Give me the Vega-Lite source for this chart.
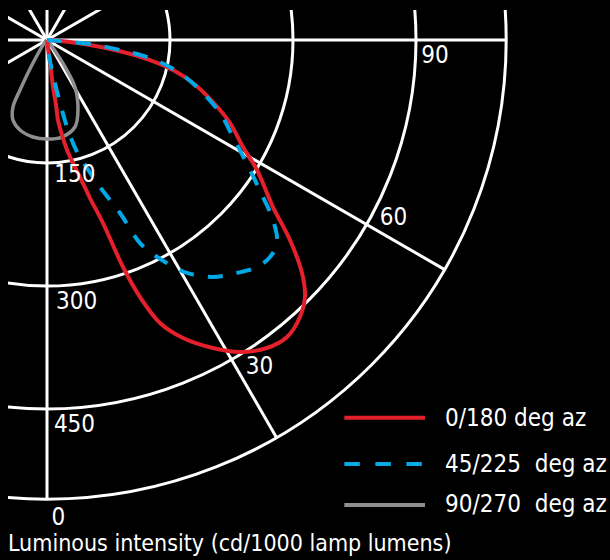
{
  "$schema": "https://vega.github.io/schema/vega-lite/v6.json",
  "description": "Polar candela plot, luminous intensity per 1000 lamp lumens",
  "background": "black",
  "autosize": "none",
  "padding": {"left": 8, "top": 10, "right": 0, "bottom": 58},
  "width": 602,
  "height": 492,
  "title": {
    "text": "Luminous intensity (cd/1000 lamp lumens)",
    "orient": "bottom",
    "anchor": "start",
    "frame": "group",
    "offset": 3,
    "color": "white",
    "font": "DejaVu Sans Condensed, Roboto, sans-serif",
    "fontSize": 23,
    "fontWeight": "normal"
  },
  "encoding": {
    "x": {"field": "x", "type": "quantitative", "scale": {"domain": [-47.56, 686.58], "nice": false, "zero": false}, "axis": null},
    "y": {"field": "y", "type": "quantitative", "scale": {"domain": [-563.41, 36.59], "nice": false, "zero": false}, "axis": null}
  },
  "layer": [
    {
      "data": {"values": [
        {"r": 150, "x": 0, "y": 0},
        {"r": 300, "x": 0, "y": 0},
        {"r": 450, "x": 0, "y": 0},
        {"r": 560, "x": 0, "y": 0}
      ]},
      "mark": {"type": "point", "shape": "circle", "filled": false, "stroke": "white", "strokeWidth": 3, "opacity": 1, "clip": true},
      "encoding": {
        "size": {"field": "r", "type": "quantitative", "scale": {"type": "pow", "exponent": 2, "domain": [0, 560], "range": [0, 843459]}, "legend": null}
      }
    },
    {
      "data": {"values": [
        {"deg": 0, "x": 0, "y": 0}, {"deg": 0, "x": 0, "y": -560},
        {"deg": 30, "x": 0, "y": 0}, {"deg": 30, "x": 280, "y": -485},
        {"deg": 60, "x": 0, "y": 0}, {"deg": 60, "x": 485, "y": -280},
        {"deg": 90, "x": 0, "y": 0}, {"deg": 90, "x": 560, "y": 0},
        {"deg": 120, "x": 0, "y": 0}, {"deg": 120, "x": 485, "y": 280},
        {"deg": 150, "x": 0, "y": 0}, {"deg": 150, "x": 280, "y": 485},
        {"deg": 180, "x": 0, "y": 0}, {"deg": 180, "x": 0, "y": 560},
        {"deg": 210, "x": 0, "y": 0}, {"deg": 210, "x": -280, "y": 485},
        {"deg": 240, "x": 0, "y": 0}, {"deg": 240, "x": -485, "y": 280},
        {"deg": 270, "x": 0, "y": 0}, {"deg": 270, "x": -560, "y": 0},
        {"deg": 300, "x": 0, "y": 0}, {"deg": 300, "x": -485, "y": -280}
      ]},
      "mark": {"type": "line", "color": "white", "strokeWidth": 3, "clip": true},
      "encoding": {
        "detail": {"field": "deg", "type": "nominal"}
      }
    },
    {
      "data": {"values": [
        {"i": 0, "x": 0, "y": 0},
        {"i": 1, "x": 7.3, "y": -9.8},
        {"i": 2, "x": 22.0, "y": -32.9},
        {"i": 3, "x": 34.1, "y": -57.3},
        {"i": 4, "x": 37.8, "y": -85.4},
        {"i": 5, "x": 34.1, "y": -106.1},
        {"i": 6, "x": 18.3, "y": -118.3},
        {"i": 7, "x": 0, "y": -120.7},
        {"i": 8, "x": -17.1, "y": -118.3},
        {"i": 9, "x": -32.9, "y": -109.8},
        {"i": 10, "x": -41.5, "y": -97.6},
        {"i": 11, "x": -41.5, "y": -81.7},
        {"i": 12, "x": -32.9, "y": -61.0},
        {"i": 13, "x": -17.1, "y": -28.0},
        {"i": 14, "x": -2.4, "y": -2.4},
        {"i": 15, "x": 0, "y": 0}
      ]},
      "mark": {"type": "line", "interpolate": "catmull-rom", "color": "#8e8e8e", "strokeWidth": 3.5},
      "encoding": {
        "order": {"field": "i", "type": "quantitative"}
      }
    },
    {
      "data": {"values": [
        {"i": 0, "x": 0, "y": 0},
        {"i": 1, "x": 28.0, "y": -2.4},
        {"i": 2, "x": 52.4, "y": -6.1},
        {"i": 3, "x": 92.7, "y": -14.6},
        {"i": 4, "x": 125.6, "y": -24.4},
        {"i": 5, "x": 153.7, "y": -36.6},
        {"i": 6, "x": 178.0, "y": -52.4},
        {"i": 7, "x": 202.4, "y": -75.6},
        {"i": 8, "x": 223.2, "y": -101.2},
        {"i": 9, "x": 239.0, "y": -130.5},
        {"i": 10, "x": 256.1, "y": -158.5},
        {"i": 11, "x": 275.6, "y": -203.7},
        {"i": 12, "x": 296.3, "y": -243.9},
        {"i": 13, "x": 311.0, "y": -284.1},
        {"i": 14, "x": 314.6, "y": -313.4},
        {"i": 15, "x": 308.5, "y": -337.8},
        {"i": 16, "x": 292.7, "y": -362.2},
        {"i": 17, "x": 268.3, "y": -375.6},
        {"i": 18, "x": 235.4, "y": -380.5},
        {"i": 19, "x": 202.4, "y": -375.6},
        {"i": 20, "x": 165.9, "y": -363.4},
        {"i": 21, "x": 137.8, "y": -345.1},
        {"i": 22, "x": 113.4, "y": -313.4},
        {"i": 23, "x": 92.7, "y": -276.8},
        {"i": 24, "x": 68.3, "y": -223.2},
        {"i": 25, "x": 52.4, "y": -192.7},
        {"i": 26, "x": 40.2, "y": -167.1},
        {"i": 27, "x": 31.7, "y": -150.0},
        {"i": 28, "x": 24.4, "y": -134.1},
        {"i": 29, "x": 18.3, "y": -115.9},
        {"i": 30, "x": 13.4, "y": -97.6},
        {"i": 31, "x": 11.0, "y": -79.3},
        {"i": 32, "x": 7.3, "y": -57.3},
        {"i": 33, "x": 4.9, "y": -36.6},
        {"i": 34, "x": 2.4, "y": -18.3},
        {"i": 35, "x": 0, "y": 0}
      ]},
      "mark": {"type": "line", "interpolate": "catmull-rom", "color": "#e3202b", "strokeWidth": 4},
      "encoding": {
        "order": {"field": "i", "type": "quantitative"}
      }
    },
    {
      "data": {"values": [
        {"i": 0, "x": 0, "y": 0},
        {"i": 1, "x": 28.0, "y": -2.4},
        {"i": 2, "x": 52.4, "y": -4.9},
        {"i": 3, "x": 89.0, "y": -12.2},
        {"i": 4, "x": 125.6, "y": -22.0},
        {"i": 5, "x": 156.1, "y": -36.6},
        {"i": 6, "x": 182.9, "y": -57.3},
        {"i": 7, "x": 211.0, "y": -89.0},
        {"i": 8, "x": 226.8, "y": -118.3},
        {"i": 9, "x": 247.6, "y": -158.5},
        {"i": 10, "x": 263.4, "y": -191.5},
        {"i": 11, "x": 275.6, "y": -219.5},
        {"i": 12, "x": 280.5, "y": -247.6},
        {"i": 13, "x": 272.0, "y": -264.6},
        {"i": 14, "x": 256.1, "y": -276.8},
        {"i": 15, "x": 231.7, "y": -284.1},
        {"i": 16, "x": 202.4, "y": -289.0},
        {"i": 17, "x": 170.7, "y": -284.1},
        {"i": 18, "x": 146.3, "y": -272.0},
        {"i": 19, "x": 134.1, "y": -264.6},
        {"i": 20, "x": 113.4, "y": -247.6},
        {"i": 21, "x": 89.0, "y": -211.0},
        {"i": 22, "x": 64.6, "y": -179.3},
        {"i": 23, "x": 46.3, "y": -152.4},
        {"i": 24, "x": 35.4, "y": -134.1},
        {"i": 25, "x": 24.4, "y": -106.1},
        {"i": 26, "x": 15.9, "y": -76.8},
        {"i": 27, "x": 7.3, "y": -42.7},
        {"i": 28, "x": 1.2, "y": -12.2},
        {"i": 29, "x": 0, "y": 0}
      ]},
      "mark": {"type": "line", "interpolate": "catmull-rom", "color": "#00a9e6", "strokeWidth": 4, "strokeDash": [15, 14]},
      "encoding": {
        "order": {"field": "i", "type": "quantitative"}
      }
    },
    {
      "data": {"values": [{"x": 362.6, "x2": 461.0, "y": -460.6}]},
      "mark": {"type": "rule", "color": "#e3202b", "strokeWidth": 4},
      "encoding": {"x2": {"field": "x2"}}
    },
    {
      "data": {"values": [{"x": 362.6, "x2": 461.0, "y": -517.1}]},
      "mark": {"type": "rule", "color": "#00a9e6", "strokeWidth": 4, "strokeDash": [15.5, 15.5]},
      "encoding": {"x2": {"field": "x2"}}
    },
    {
      "data": {"values": [{"x": 362.6, "x2": 461.0, "y": -567.1}]},
      "mark": {"type": "rule", "color": "#8e8e8e", "strokeWidth": 4},
      "encoding": {"x2": {"field": "x2"}}
    },
    {
      "data": {"values": [
        {"label": "0/180 deg az", "x": 485.4, "y": -462.8},
        {"label": "45/225\u00a0 deg az", "x": 485.4, "y": -518.3},
        {"label": "90/270\u00a0 deg az", "x": 485.4, "y": -566.7}
      ]},
      "mark": {"type": "text", "color": "white", "align": "left", "baseline": "middle", "font": "DejaVu Sans Condensed, Roboto, sans-serif", "fontSize": 24},
      "encoding": {
        "text": {"field": "label", "type": "nominal"}
      }
    },
    {
      "data": {"values": [
        {"label": "150", "x": 34.1, "y": -164.6},
        {"label": "300", "x": 36.0, "y": -318.9},
        {"label": "450", "x": 33.5, "y": -469.5},
        {"label": "0", "x": 14.0, "y": -582.9},
        {"label": "30", "x": 259.1, "y": -398.2},
        {"label": "60", "x": 422.6, "y": -217.1},
        {"label": "90", "x": 473.2, "y": -20.1}
      ]},
      "mark": {"type": "text", "color": "white", "align": "center", "baseline": "middle", "font": "DejaVu Sans Condensed, Roboto, sans-serif", "fontSize": 24},
      "encoding": {
        "text": {"field": "label", "type": "nominal"}
      }
    }
  ],
  "config": {"view": {"stroke": null}}
}
